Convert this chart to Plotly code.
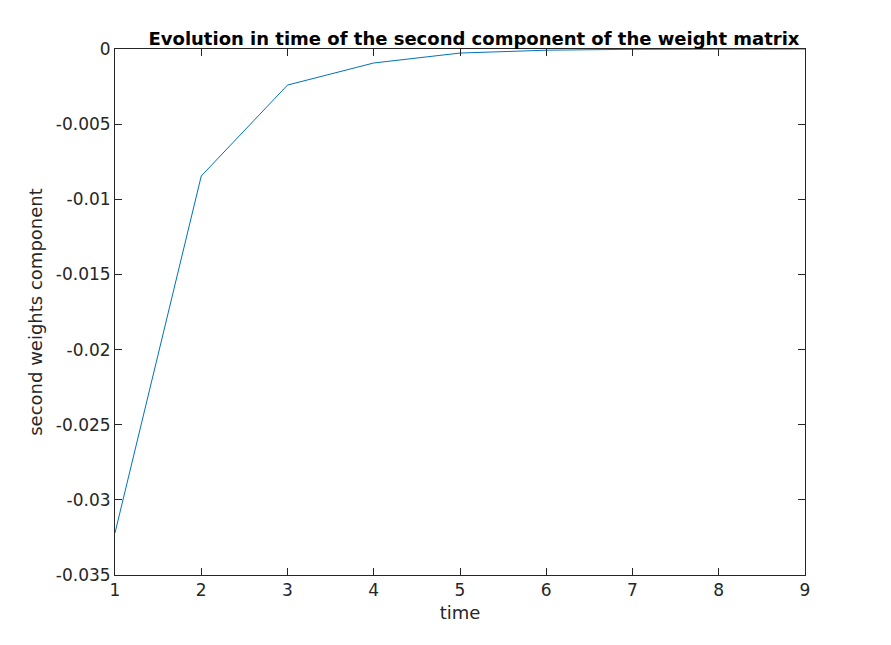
import plotly.graph_objects as go

time = [1, 2, 3, 4, 5, 6, 7, 8, 9]
weights = [-0.0322, -0.00845, -0.0024, -0.00093, -0.00027, -0.00008, -0.00002, -0.000005, -0.000001]
xticks = [1, 2, 3, 4, 5, 6, 7, 8, 9]
yticks = [-0.035, -0.03, -0.025, -0.02, -0.015, -0.01, -0.005, 0]
ylabels = ["-0.035", "-0.03", "-0.025", "-0.02", "-0.015", "-0.01", "-0.005", "0"]

fig = go.Figure(go.Scatter(x=time, y=weights, mode="lines",
                           line=dict(color="#0072BD", width=1)))
ax = dict(showline=True, linecolor="#262626", linewidth=1, mirror="ticks",
          ticks="inside", ticklen=7, tickcolor="#262626", showgrid=False,
          zeroline=False, tickfont=dict(size=17, color="#262626"))
fig.update_layout(
    width=891, height=645, paper_bgcolor="white", plot_bgcolor="white",
    font=dict(family="DejaVu Sans", color="#262626"),
    margin=dict(l=107, r=94, t=41, b=78),
    showlegend=False,
    title=dict(text="<b>Evolution in time of the second component of the weight matrix</b>",
               x=0.523, xanchor="center", y=0.953, yanchor="middle",
               font=dict(size=18, color="black")),
    xaxis=dict(range=[1, 9], tickvals=xticks, title=dict(text="time", font=dict(size=18), standoff=6), **ax),
    yaxis=dict(range=[-0.035, 0], tickvals=yticks, ticktext=ylabels,
               title=dict(text="second weights component", font=dict(size=18), standoff=8), **ax),
)
fig.write_html("out.html")
